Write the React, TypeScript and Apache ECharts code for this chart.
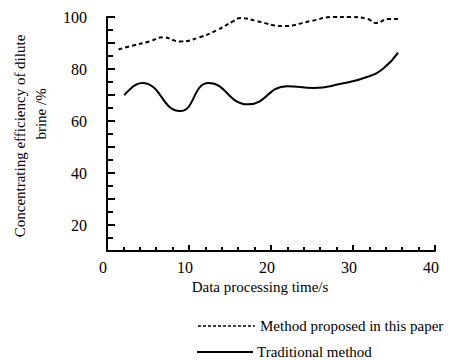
import React, { useEffect, useRef } from "react";
import * as echarts from "echarts";

const proposedX = [1.4, 3.1, 5.2, 6.8, 8.9, 11.3, 13.4, 15.4, 16.3, 18.3, 21.5, 24.8, 27.7, 29.7, 31.8, 32.8, 34.3, 35.6];
const proposedY = [87.5, 89, 90.6, 92.2, 90.6, 92.2, 94.9, 98.4, 99.6, 98.4, 96.5, 98.4, 100, 100, 99.2, 97.7, 99.2, 99.2];
const traditionalX = [2.1, 4.3, 8.9, 12.4, 17.2, 22.0, 25.2, 28.4, 31.8, 33.8, 35.5];
const traditionalY = [69.9, 74.6, 63.8, 74.6, 66.4, 73.4, 72.7, 74.2, 77, 80.5, 86.3];
const seriesNames = ["Method proposed in this paper", "Traditional method"];
const xTitle = "Data processing time/s";
const yTitle1 = "Concentrating efficiency of dilute";
const yTitle2 = "brine /%";

const FONT = "Liberation Serif";

export default function App() {
  const ref = useRef<HTMLDivElement>(null);
  useEffect(() => {
    if (!ref.current) return;
    const chart = echarts.init(ref.current, null, { renderer: "svg" });
    const textStyle = { fontFamily: FONT, fontSize: 15, fill: "#000" };
    chart.setOption({
      animation: false,
      backgroundColor: "#fff",
      textStyle: { fontFamily: FONT, color: "#000" },
      grid: { left: 107, right: 22, top: 17, bottom: 110, containLabel: false },
      xAxis: {
        type: "value",
        min: 0,
        max: 40,
        interval: 10,
        name: xTitle,
        nameLocation: "middle",
        nameGap: 27,
        nameTextStyle: { fontFamily: FONT, fontSize: 15, color: "#000", padding: [0, 22, 0, 0] },
        axisLine: { lineStyle: { color: "#000", width: 2 } },
        axisTick: { inside: true, length: 6, lineStyle: { color: "#000", width: 2 } },
        minorTick: { show: true, splitNumber: 5, length: 4, lineStyle: { color: "#000", width: 2 } },
        axisLabel: { fontFamily: FONT, fontSize: 16, color: "#000", margin: 8, padding: [0, 8, 0, 0] },
        splitLine: { show: false },
      },
      yAxis: {
        type: "value",
        min: 10,
        max: 100,
        interval: 10,
        axisLine: { show: true, lineStyle: { color: "#000", width: 2 } },
        axisTick: { show: true, inside: true, length: 8, lineStyle: { color: "#000", width: 2 } },
        minorTick: { show: true, splitNumber: 2, length: 6, lineStyle: { color: "#000", width: 2 } },
        axisLabel: {
          fontFamily: FONT,
          fontSize: 16,
          color: "#000",
          margin: 20,
          formatter: (v: number) => (v % 20 === 0 ? String(v) : ""),
        },
        splitLine: { show: false },
      },
      graphic: [
        {
          type: "text",
          x: 20,
          y: 136,
          rotation: Math.PI / 2,
          style: { ...textStyle, text: yTitle1, align: "center", verticalAlign: "middle" },
        },
        {
          type: "text",
          x: 41,
          y: 114,
          rotation: Math.PI / 2,
          style: { ...textStyle, text: yTitle2, align: "center", verticalAlign: "middle" },
        },
        {
          type: "line",
          shape: { x1: 198, y1: 326, x2: 255, y2: 326 },
          style: { stroke: "#000", lineWidth: 1.5, lineDash: [3, 2] },
        },
        {
          type: "text",
          x: 260,
          y: 326,
          style: { ...textStyle, text: seriesNames[0], align: "left", verticalAlign: "middle" },
        },
        {
          type: "line",
          shape: { x1: 197, y1: 352, x2: 253, y2: 352 },
          style: { stroke: "#000", lineWidth: 2 },
        },
        {
          type: "text",
          x: 257,
          y: 352,
          style: { ...textStyle, text: seriesNames[1], align: "left", verticalAlign: "middle" },
        },
      ],
      series: [
        {
          name: seriesNames[0],
          type: "line",
          smooth: 0.5,
          symbol: "none",
          lineStyle: { color: "#000", width: 2, type: [4, 3] },
          itemStyle: { color: "#000" },
          data: proposedX.map((x, i) => [x, proposedY[i]]),
        },
        {
          name: seriesNames[1],
          type: "line",
          smooth: 0.5,
          symbol: "none",
          lineStyle: { color: "#000", width: 2 },
          itemStyle: { color: "#000" },
          data: traditionalX.map((x, i) => [x, traditionalY[i]]),
        },
      ],
    });
    return () => chart.dispose();
  }, []);
  return <div ref={ref} style={{ width: 457, height: 361, position: "absolute", left: 0, top: 0 }} />;
}
